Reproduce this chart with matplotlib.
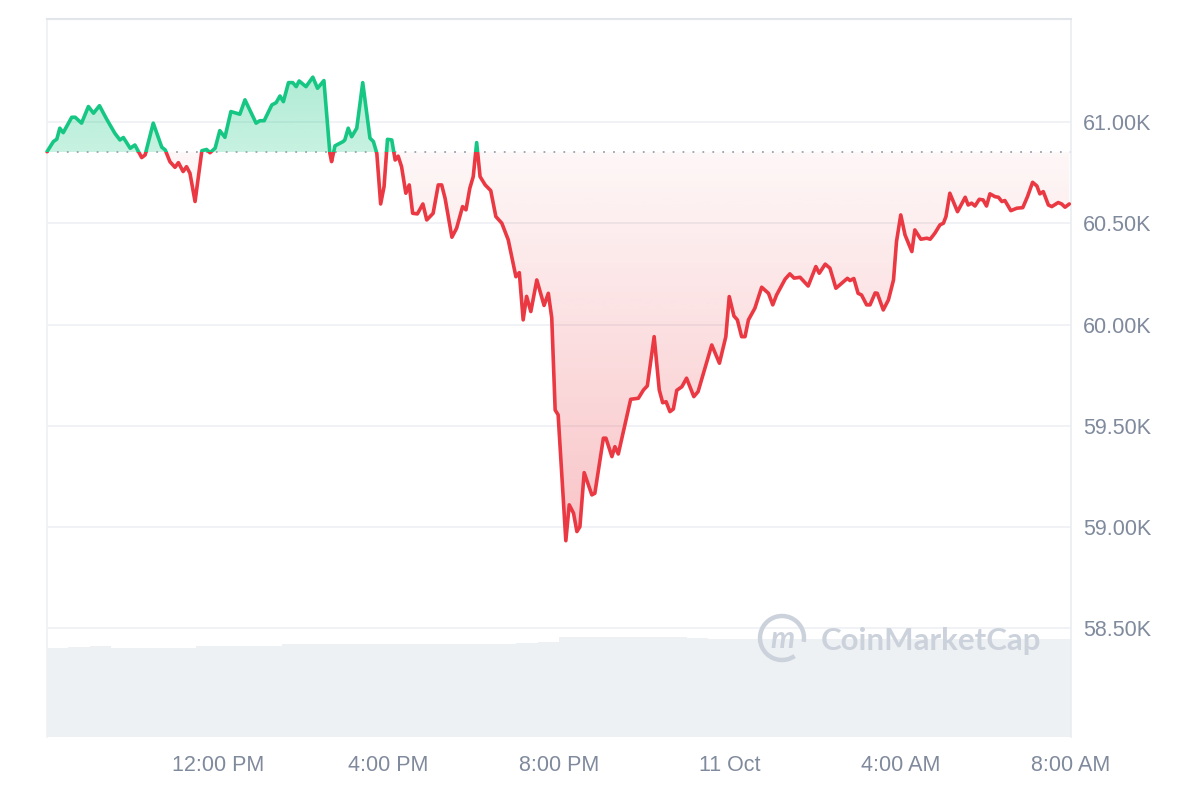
import numpy as np
import matplotlib.pyplot as plt
from matplotlib.path import Path
from matplotlib.patches import PathPatch, Rectangle, Arc
from matplotlib.colors import to_rgb
from matplotlib.ticker import FuncFormatter

plt.rcParams['font.family'] = ['Liberation Sans', 'DejaVu Sans']

# hours since 8:00 AM (10 Oct) and BTC price in USD
hours = [0.00, 0.15, 0.23, 0.30, 0.38, 0.58, 0.66, 0.81, 0.97, 1.09,
         1.23, 1.40, 1.59, 1.71, 1.79, 1.95, 2.06, 2.22, 2.30, 2.49,
         2.69, 2.77, 2.88, 3.00, 3.08, 3.19, 3.27, 3.35, 3.47, 3.63,
         3.74, 3.82, 3.94, 4.05, 4.17, 4.31, 4.52, 4.64, 4.90, 4.99,
         5.09, 5.27, 5.37, 5.46, 5.54, 5.66, 5.76, 5.84, 5.91, 6.07,
         6.23, 6.34, 6.49, 6.63, 6.67, 6.75, 6.94, 6.98, 7.06, 7.14,
         7.26, 7.40, 7.57, 7.65, 7.73, 7.82, 7.90, 7.98, 8.08, 8.16,
         8.23, 8.31, 8.41, 8.49, 8.57, 8.68, 8.81, 8.90, 9.05, 9.17,
         9.25, 9.33, 9.49, 9.60, 9.74, 9.82, 9.91, 9.99, 10.07, 10.15,
         10.27, 10.40, 10.52, 10.66, 10.81, 10.99, 11.07, 11.16, 11.24, 11.34,
         11.48, 11.65, 11.75, 11.83, 11.91, 11.98, 12.16, 12.24, 12.34, 12.42,
         12.49, 12.59, 12.77, 12.84, 13.04, 13.10, 13.24, 13.31, 13.39, 13.68,
         13.86, 13.98, 14.07, 14.23, 14.35, 14.43, 14.51, 14.60, 14.68, 14.76,
         14.88, 14.99, 15.16, 15.26, 15.58, 15.76, 15.91, 15.99, 16.10, 16.18,
         16.28, 16.36, 16.44, 16.59, 16.75, 16.91, 17.01, 17.10, 17.30, 17.41,
         17.51, 17.65, 17.84, 18.02, 18.10, 18.24, 18.35, 18.49, 18.76, 18.82,
         18.91, 19.01, 19.09, 19.21, 19.29, 19.41, 19.46, 19.60, 19.72, 19.84,
         19.91, 20.01, 20.11, 20.27, 20.34, 20.48, 20.62, 20.70, 20.81, 20.93,
         21.01, 21.07, 21.16, 21.34, 21.52, 21.59, 21.67, 21.75, 21.85, 21.94,
         22.02, 22.10, 22.22, 22.30, 22.38, 22.45, 22.59, 22.73, 22.87, 22.98,
         23.10, 23.20, 23.27, 23.35, 23.47, 23.55, 23.70, 23.78, 23.86, 23.96]

price = [60853, 60903, 60915, 60969, 60947, 61023, 61023, 60994, 61076, 61043,
         61080, 61013, 60944, 60911, 60923, 60870, 60886, 60824, 60837, 60994,
         60875, 60862, 60804, 60776, 60799, 60755, 60779, 60747, 60607, 60858,
         60864, 60848, 60870, 60957, 60924, 61051, 61038, 61109, 60994, 61006,
         61006, 61084, 61095, 61128, 61100, 61194, 61194, 61174, 61202, 61174,
         61221, 61166, 61204, 60845, 60804, 60882, 60903, 60911, 60969, 60927,
         60969, 61194, 60920, 60903, 60845, 60595, 60681, 60914, 60911, 60812,
         60831, 60779, 60648, 60689, 60549, 60546, 60595, 60516, 60549, 60689,
         60689, 60623, 60431, 60475, 60582, 60566, 60673, 60730, 60898, 60730,
         60689, 60661, 60533, 60500, 60418, 60236, 60256, 60023, 60139, 60064,
         60220, 60094, 60154, 60033, 59578, 59554, 58933, 59110, 59069, 58978,
         59002, 59269, 59159, 59167, 59439, 59439, 59348, 59397, 59361, 59631,
         59636, 59677, 59697, 59940, 59677, 59614, 59619, 59570, 59583, 59675,
         59693, 59735, 59644, 59669, 59899, 59809, 59940, 60138, 60042, 60023,
         59940, 59940, 60023, 60080, 60184, 60154, 60097, 60146, 60224, 60250,
         60229, 60233, 60190, 60286, 60253, 60298, 60278, 60179, 60228, 60217,
         60227, 60154, 60146, 60097, 60097, 60156, 60154, 60072, 60121, 60220,
         60409, 60541, 60442, 60360, 60467, 60421, 60426, 60421, 60451, 60492,
         60500, 60533, 60648, 60557, 60628, 60590, 60599, 60585, 60618, 60615,
         60585, 60645, 60631, 60628, 60607, 60612, 60562, 60574, 60577, 60631,
         60702, 60684, 60645, 60656, 60590, 60582, 60602, 60595, 60579, 60595]

open_price = 60850  # dotted reference line

# 24h volume (billions USD), one value per half hour
vol = [28.4, 28.8, 29.1, 28.6, 28.4, 28.4, 28.4, 29.1, 29.1, 29.1,
       29.1, 29.8, 29.8, 29.8, 29.8, 29.8, 29.8, 29.85, 29.85, 29.85,
       29.85, 29.85, 30.2, 30.4, 31.9, 31.9, 31.9, 31.9, 31.9, 31.9,
       31.6, 31.35, 31.35, 31.35, 31.35, 31.35, 31.35, 31.35, 31.35, 31.35,
       31.35, 31.35, 31.35, 31.35, 31.35, 31.35, 31.35, 31.35]
vol_hours = [0.5 * i for i in range(len(vol))]

tick_pos = [4, 8, 12, 16, 20, 24]
tick_labels = ['12:00 PM', '4:00 PM', '8:00 PM', '11 Oct', '4:00 AM', '8:00 AM']
y_ticks = [58500, 59000, 59500, 60000, 60500, 61000]

green = '#16c784'
red = '#ea3943'
grey_txt = '#808a9d'

hours = np.array(hours)
price = np.array(price, dtype=float)

fig = plt.figure(figsize=(12, 8), dpi=100)
rect = [47 / 1200, 63 / 800, 1024 / 1200, 718 / 800]

# volume in the background
ax_vol = fig.add_axes(rect)
ax_vol.bar(vol_hours, vol, width=0.5, align='edge', color='#eef1f4', edgecolor='none')
ax_vol.set_xlim(0, 24)
ax_vol.set_ylim(0, 230)
ax_vol.axis('off')

ax = fig.add_axes(rect)
ax.patch.set_alpha(0)


def gradient_fill(ax, x, y, base, mask, color, a_top, a_bot, y0, y1):
    # fill between line and base with a vertical alpha gradient
    coll = ax.fill_between(x, y, base, where=mask, interpolate=True,
                           facecolor='none', edgecolor='none')
    path = Path.make_compound_path(*coll.get_paths())
    patch = PathPatch(path, transform=ax.transData, facecolor='none', edgecolor='none')
    ax.add_patch(patch)
    n = 256
    img = np.zeros((n, 1, 4))
    img[..., :3] = to_rgb(color)
    img[:, 0, 3] = np.linspace(a_top, a_bot, n)
    im = ax.imshow(img, aspect='auto', extent=(x[0], x[-1], y0, y1),
                   origin='upper', zorder=1, interpolation='bilinear')
    im.set_clip_path(patch)


gradient_fill(ax, hours, price, open_price, price >= open_price, green,
              0.34, 0.24, open_price, price.max())
gradient_fill(ax, hours, price, open_price, price <= open_price, red,
              0.04, 0.30, price.min(), open_price)

# price line, green above the open and red below
up, = ax.plot(hours, price, color=green, lw=2.6, zorder=3,
              solid_joinstyle='round', solid_capstyle='round')
up.set_clip_path(Rectangle((-1, open_price), 26, 5000, transform=ax.transData))
dn, = ax.plot(hours, price, color=red, lw=2.6, zorder=3,
              solid_joinstyle='round', solid_capstyle='round')
dn.set_clip_path(Rectangle((-1, open_price - 5000), 26, 5000, transform=ax.transData))

ax.axhline(open_price, color='#9aa3b2', lw=1.3, ls=(0, (1, 4.5)), zorder=2)

ax.set_xlim(0, 24)
ax.set_ylim(57964, 61508)
ax.set_xticks(tick_pos)
ax.set_xticklabels(tick_labels)
ax.set_yticks(y_ticks)
ax.yaxis.set_major_formatter(FuncFormatter(lambda v, p: f'{v / 1000:.2f}K'))
ax.yaxis.tick_right()
ax.tick_params(axis='both', length=0, labelsize=15.5, labelcolor=grey_txt)
ax.tick_params(axis='x', pad=13)
ax.tick_params(axis='y', pad=8.5)
ax.yaxis.grid(True, color='#eceff2', lw=1.1)
ax.set_axisbelow(True)

ax.spines['bottom'].set_visible(False)
ax.spines['top'].set_color('#e2e5e9')
ax.spines['top'].set_linewidth(1.5)
ax.spines['left'].set_color('#eef0f3')
ax.spines['left'].set_linewidth(1.2)
ax.spines['right'].set_color('#eaedf0')
ax.spines['right'].set_linewidth(1.2)

# watermark
wm = '#ccd2db'
fig.add_artist(Arc((782 / 1200, 1 - 638 / 800), 44 / 1200, 44 / 800, theta1=-15, theta2=295,
                   transform=fig.transFigure, color=wm, lw=3.2))
fig.text(782 / 1200, 1 - 639 / 800, 'm', fontsize=22, fontweight='bold', style='italic',
         color=wm, ha='center', va='center', family=['Lato', 'DejaVu Sans'])
fig.text(821 / 1200, 1 - 641 / 800, 'CoinMarketCap', fontsize=22.5, fontweight='bold',
         color=wm, ha='left', va='center', family=['Lato', 'DejaVu Sans'])

fig.savefig('out.png', dpi=100)
